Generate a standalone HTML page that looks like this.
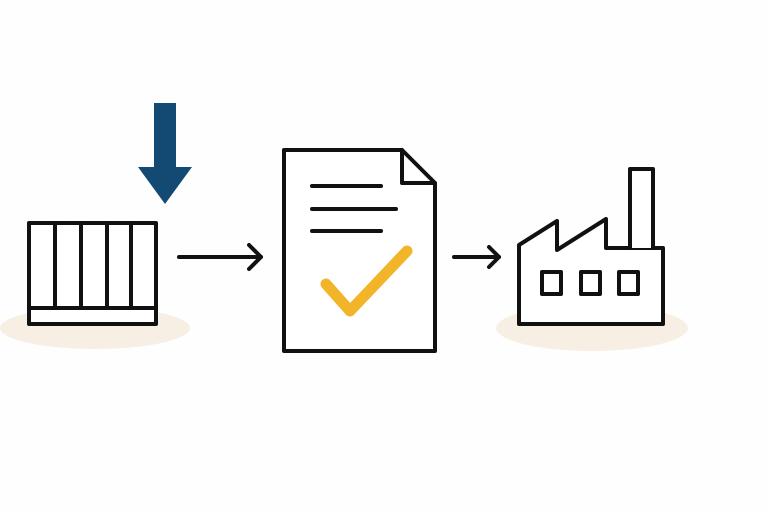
<!DOCTYPE html>
<html><head><style>html,body{margin:0;padding:0;background:#fff;}</style></head>
<body>
<svg width="768" height="512" viewBox="0 0 768 512" xmlns="http://www.w3.org/2000/svg">
<rect width="768" height="512" fill="#fefefe"/>
<ellipse cx="95" cy="328" rx="95" ry="21" fill="#f7efe3"/>
<ellipse cx="592" cy="328" rx="96" ry="23" fill="#f7efe3"/>
<g fill="none" stroke="#111" stroke-width="4" stroke-linecap="round" stroke-linejoin="round">
  <rect x="29" y="223" width="127" height="101" fill="#fff"/>
  <line x1="29" y1="308" x2="156" y2="308"/>
  <line x1="55" y1="223" x2="55" y2="308"/>
  <line x1="81" y1="223" x2="81" y2="308"/>
  <line x1="107" y1="223" x2="107" y2="308"/>
  <line x1="131" y1="223" x2="131" y2="308"/>
  <line x1="179" y1="257" x2="261" y2="257"/>
  <polyline points="249,245 261,257 249,269"/>
  <path d="M284,150 H402 L435,183 V351 H284 Z" fill="#fff"/>
  <polyline points="402,150 402,183 435,183"/>
  <line x1="312" y1="186" x2="381" y2="186"/>
  <line x1="312" y1="209" x2="396" y2="209"/>
  <line x1="312" y1="231" x2="381" y2="231"/>
  <line x1="454" y1="257" x2="499" y2="257"/>
  <polyline points="489,247 499,257 489,267"/>
  <path d="M519,245 L557,221 V250 L606,219 V248 H663 V324 H519 Z" fill="#fff"/>
  <path d="M630,248 V169 H653 V248" fill="#fff"/>
  <rect x="542" y="272" width="19" height="22"/>
  <rect x="581" y="272" width="19" height="22"/>
  <rect x="619" y="272" width="19" height="22"/>
</g>
<polyline points="326,284 350,311 407,251" fill="none" stroke="#f2b428" stroke-width="11" stroke-linecap="round" stroke-linejoin="round"/>
<polygon points="154,103 176,103 176,167 192,167 165,204 138,167 154,167" fill="#134a73"/>
</svg>
</body></html>
